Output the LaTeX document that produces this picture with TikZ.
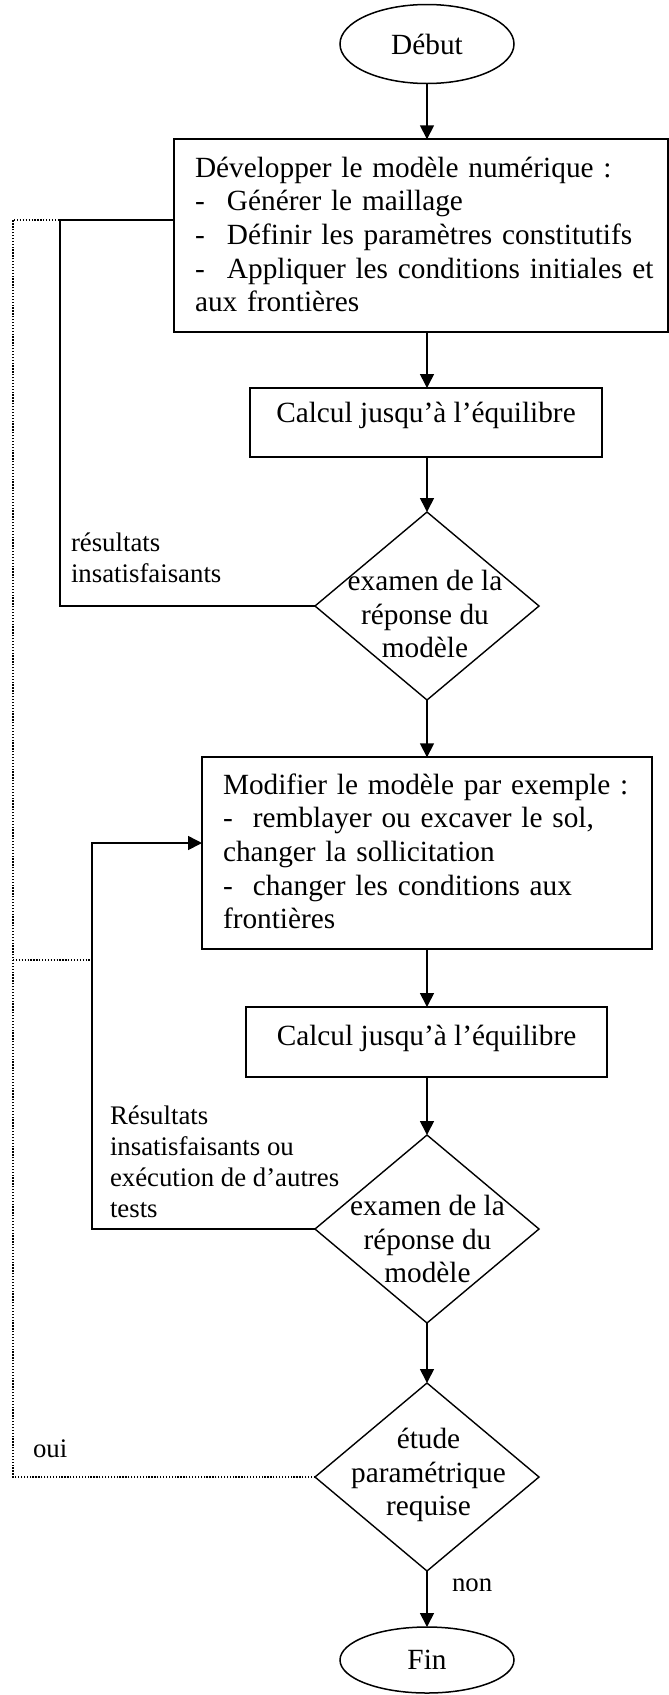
\documentclass[tikz,border=0pt]{standalone}
\usepackage{fontspec}
\setmainfont{Liberation Serif}
\usetikzlibrary{shapes.geometric,arrows.meta}
\begin{document}
\begin{tikzpicture}[x=1pt,y=-1pt,
  every node/.style={inner sep=0pt, outer sep=0pt},
  mainfont/.style={font=\fontsize{29.3}{33.6}\selectfont},
  labfont/.style={font=\fontsize{26.8}{30.8}\selectfont},
  boxstyle/.style={draw, line width=1.8pt, mainfont},
  flow/.style={line width=1.6pt, -{Triangle[length=14pt,width=14pt]}},
  loopline/.style={line width=1.6pt},
  dotline/.style={line width=1.2pt, dash pattern=on 1.3pt off 1.6pt},
  term/.style={ellipse, draw, line width=1.5pt, minimum width=174pt, mainfont},
  decision/.style={diamond, draw, line width=1.4pt, minimum width=224pt, minimum height=188pt},
]
\useasboundingbox (0,0) rectangle (669,1695);

% terminals
\node[term, minimum height=79pt] (debut) at (427,44) {Début};
\node[term, minimum height=66pt] (fin) at (427,1660) {Fin};

% process boxes
\node[boxstyle, text width=452pt, inner xsep=21pt, align=left] (dev) at (421,235.5)
 {\mbox{\rule{0pt}{38pt}Développer le modèle numérique :}\\
  \mbox{\makebox[32pt][l]{-}Générer le maillage}\\
  \mbox{\makebox[32pt][l]{-}Définir les paramètres constitutifs}\\
  \mbox{\makebox[32pt][l]{-}Appliquer les conditions initiales et}\\
  \mbox{aux frontières\rule[-20pt]{0pt}{20pt}}};

\node[boxstyle, minimum width=352pt, text height=34pt, text depth=35pt] (calc1) at (426,422.5)
 {Calcul jusqu’à l’équilibre};

\node[boxstyle, text width=408pt, inner xsep=21pt, align=left] (modif) at (427,853)
 {\mbox{\rule{0pt}{37pt}Modifier le modèle par exemple :}\\
  \mbox{\makebox[30pt][l]{-}remblayer ou excaver le sol,}\\
  \mbox{changer la sollicitation}\\
  \mbox{\makebox[30pt][l]{-}changer les conditions aux}\\
  \mbox{frontières\rule[-20pt]{0pt}{20pt}}};

\node[boxstyle, minimum width=361pt, text height=38.5pt, text depth=31.5pt] (calc2) at (426.5,1042)
 {Calcul jusqu’à l’équilibre};

% decisions
\node[decision] (ex1) at (427,606) {};
\node[mainfont, align=center] (ex1t) at (425,624)
 {\rule{0pt}{24pt}examen de la\\réponse du\\modèle\rule[-24pt]{0pt}{24pt}};
\node[decision] (ex2) at (427,1229) {};
\node[mainfont, align=center] (ex2t) at (427.5,1249)
 {\rule{0pt}{24pt}examen de la\\réponse du\\modèle\rule[-24pt]{0pt}{24pt}};
\node[decision] (ex3) at (427,1477) {};
\node[mainfont, align=center] (ex3t) at (428.5,1482)
 {\rule{0pt}{24pt}étude\\paramétrique\\requise\rule[-24pt]{0pt}{24pt}};

% labels
\node[labfont, align=left, anchor=west] (lab1) at (71,567.3)
 {\rule{0pt}{22pt}résultats\\insatisfaisants\rule[-22pt]{0pt}{22pt}};
\node[labfont, align=left, anchor=west] (lab2) at (110,1171)
 {\rule{0pt}{22pt}Résultats\\insatisfaisants ou\\exécution de d’autres\\tests\rule[-22pt]{0pt}{22pt}};
\node[labfont, anchor=base west] (oui) at (33,1457) {oui};
\node[labfont, anchor=base west] (non) at (452,1591) {non};

% main flow
\draw[flow] (debut.south) -- (ex1 |- dev.north);
\draw[flow] (ex1 |- dev.south) -- (ex1 |- calc1.north);
\draw[flow] (ex1 |- calc1.south) -- (ex1.north);
\draw[flow] (ex1.south) -- (ex1 |- modif.north);
\draw[flow] (ex1 |- modif.south) -- (ex1 |- calc2.north);
\draw[flow] (ex1 |- calc2.south) -- (ex2.north);
\draw[flow] (ex2.south) -- (ex3.north);
\draw[flow] (ex3.south) -- (ex1 |- fin.north);

% loops
\coordinate (l1a) at (60,220);
\draw[loopline] (ex1.west) -| (l1a) -- (dev.west |- l1a);
\coordinate (l2a) at (92,843);
\draw[flow] (ex2.west) -| (l2a) -- (modif.west |- l2a);

% dotted return
\coordinate (d0) at (13,220);
\coordinate (d1) at (13,960);
\coordinate (d2) at (92,960);
\draw[dotline] (ex3.west) -| (d0) -- (l1a);
\draw[dotline] (d1) -- (d2);
\end{tikzpicture}
\end{document}
